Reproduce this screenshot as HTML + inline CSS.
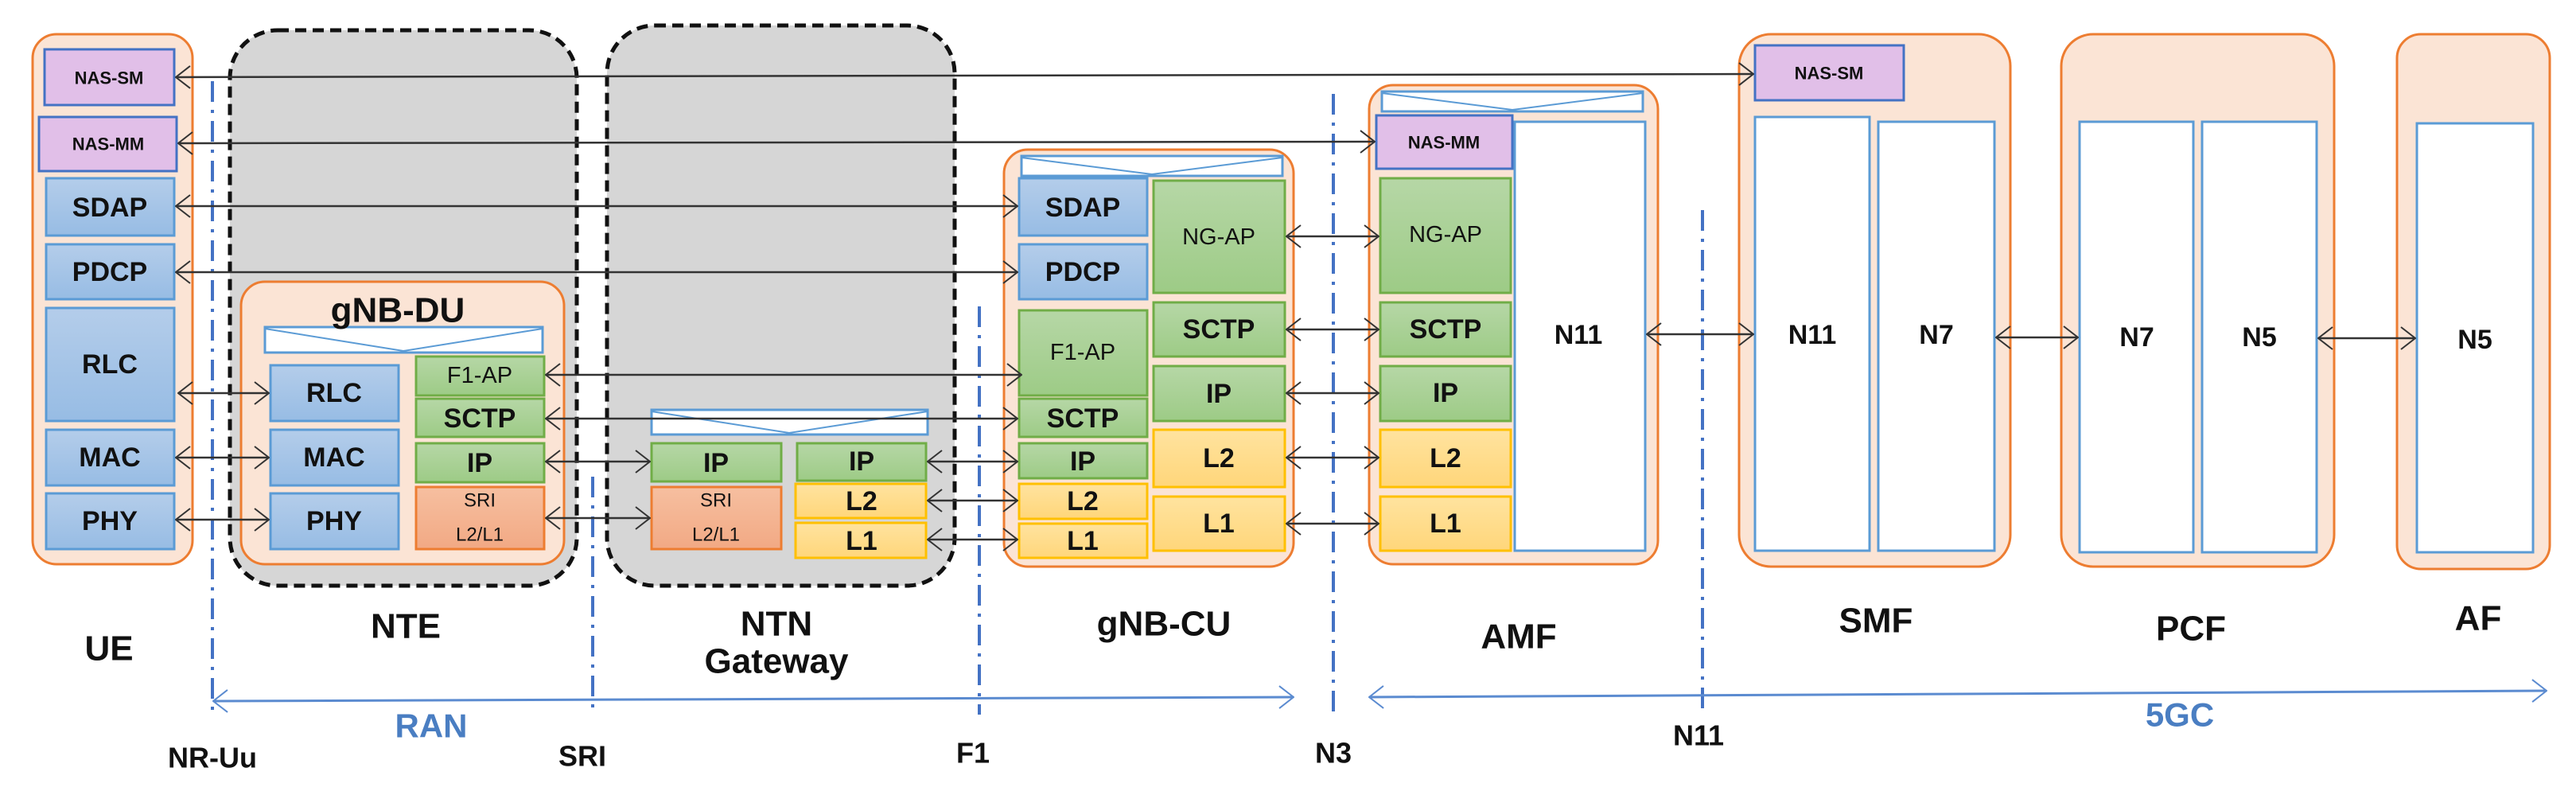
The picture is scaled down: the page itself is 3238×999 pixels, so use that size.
<!DOCTYPE html>
<html><head><meta charset="utf-8"><style>
html,body{margin:0;padding:0;background:#fff}
svg{display:block}
text{font-family:"Liberation Sans",sans-serif;text-anchor:middle;dominant-baseline:central;fill:#111}
.b{font-weight:bold}
</style></head><body>
<svg width="3238" height="999" viewBox="0 0 3238 999" xmlns="http://www.w3.org/2000/svg">
<defs>
<linearGradient id="gb" x1="0" y1="0" x2="0" y2="1"><stop offset="0" stop-color="#B4CDEA"/><stop offset="1" stop-color="#97BCE4"/></linearGradient>
<linearGradient id="gg" x1="0" y1="0" x2="0" y2="1"><stop offset="0" stop-color="#B6D7A6"/><stop offset="1" stop-color="#9DCB86"/></linearGradient>
<linearGradient id="gy" x1="0" y1="0" x2="0" y2="1"><stop offset="0" stop-color="#FFE39F"/><stop offset="1" stop-color="#FFD67A"/></linearGradient>
<linearGradient id="gs" x1="0" y1="0" x2="0" y2="1"><stop offset="0" stop-color="#F6BFA0"/><stop offset="1" stop-color="#F2A984"/></linearGradient>
<marker id="ah" viewBox="0 0 20 30" refX="19" refY="15" markerWidth="20" markerHeight="30" markerUnits="userSpaceOnUse" orient="auto-start-reverse"><path d="M1 1 L19 15 L1 29" fill="none" stroke="#333" stroke-width="2"/></marker>
<marker id="bh" viewBox="0 0 20 30" refX="19" refY="15" markerWidth="20" markerHeight="30" markerUnits="userSpaceOnUse" orient="auto-start-reverse"><path d="M1 1 L19 15 L1 29" fill="none" stroke="#5B8BD0" stroke-width="2"/></marker>
</defs>

<rect x="289" y="38" width="436" height="698" rx="60" fill="#D6D6D6" stroke="#111" stroke-width="5" stroke-dasharray="14,8"/>
<rect x="763" y="32" width="437" height="704" rx="60" fill="#D6D6D6" stroke="#111" stroke-width="5" stroke-dasharray="14,8"/>

<g fill="#FBE4D5" stroke="#ED7D31" stroke-width="3">
<rect x="41" y="43" width="201" height="666" rx="30"/>
<rect x="303" y="354" width="406" height="355" rx="30"/>
<rect x="1262" y="188" width="364" height="524" rx="30"/>
<rect x="1721" y="107" width="363" height="602" rx="30"/>
<rect x="2186" y="43" width="341" height="669" rx="40"/>
<rect x="2591" y="43" width="343" height="669" rx="40"/>
<rect x="3013" y="43" width="192" height="672" rx="30"/>
</g>

<g fill="#fff" stroke="#5B9BD5" stroke-width="3">
<rect x="333" y="411" width="349" height="32"/><path d="M333 413 L507 441 L682 413" fill="none" stroke-width="2"/>
<rect x="819" y="515" width="347" height="31"/><path d="M819 517 L992 544 L1166 517" fill="none" stroke-width="2"/>
<rect x="1284" y="196" width="328" height="25"/><path d="M1284 198 L1448 219 L1612 198" fill="none" stroke-width="2"/>
<rect x="1737" y="115" width="328" height="25"/><path d="M1737 117 L1901 138 L2065 117" fill="none" stroke-width="2"/>
</g>

<g fill="#fff" stroke="#5B9BD5" stroke-width="3">
<rect x="1904" y="153" width="164" height="539"/>
<rect x="2206" y="147" width="144" height="545"/>
<rect x="2361" y="153" width="146" height="539"/>
<rect x="2614" y="153" width="143" height="541"/>
<rect x="2768" y="153" width="144" height="541"/>
<rect x="3038" y="155" width="146" height="539"/>
</g>

<g fill="#E1BFE8" stroke="#4472C4" stroke-width="3">
<rect x="56" y="62" width="163" height="70"/>
<rect x="49" y="147" width="173" height="68"/>
<rect x="1730" y="145" width="171" height="67"/>
<rect x="2206" y="57" width="187" height="69"/>
</g>

<g fill="url(#gb)" stroke="#5B9BD5" stroke-width="3">
<rect x="58" y="224" width="161" height="72"/>
<rect x="58" y="307" width="161" height="69"/>
<rect x="58" y="387" width="161" height="142"/>
<rect x="58" y="540" width="161" height="70"/>
<rect x="58" y="620" width="161" height="70"/>
<rect x="340" y="459" width="161" height="70"/>
<rect x="340" y="540" width="161" height="70"/>
<rect x="340" y="620" width="161" height="70"/>
<rect x="1281" y="224" width="161" height="72"/>
<rect x="1281" y="307" width="161" height="69"/>
</g>

<g fill="url(#gg)" stroke="#70AD47" stroke-width="3">
<rect x="523" y="448" width="161" height="49"/>
<rect x="523" y="501" width="161" height="48"/>
<rect x="523" y="557" width="161" height="49"/>
<rect x="819" y="557" width="163" height="48"/>
<rect x="1002" y="557" width="162" height="47"/>
<rect x="1281" y="390" width="161" height="107"/>
<rect x="1281" y="501" width="161" height="48"/>
<rect x="1281" y="557" width="161" height="44"/>
<rect x="1450" y="227" width="165" height="141"/>
<rect x="1450" y="380" width="165" height="68"/>
<rect x="1450" y="460" width="165" height="69"/>
<rect x="1735" y="224" width="164" height="144"/>
<rect x="1735" y="380" width="164" height="68"/>
<rect x="1735" y="460" width="164" height="69"/>
</g>

<g fill="url(#gs)" stroke="#ED7D31" stroke-width="3">
<rect x="523" y="612" width="161" height="78"/>
<rect x="819" y="612" width="163" height="78"/>
</g>

<g fill="url(#gy)" stroke="#FFC000" stroke-width="3">
<rect x="1000" y="608" width="164" height="43"/>
<rect x="1000" y="657" width="164" height="44"/>
<rect x="1281" y="608" width="161" height="44"/>
<rect x="1281" y="658" width="161" height="43"/>
<rect x="1450" y="540" width="165" height="72"/>
<rect x="1450" y="624" width="165" height="68"/>
<rect x="1735" y="540" width="164" height="72"/>
<rect x="1735" y="624" width="164" height="68"/>
</g>

<g stroke="#4472C4" stroke-width="4" stroke-dasharray="26,10,4,10">
<line x1="267" y1="102" x2="267" y2="898"/>
<line x1="745" y1="599" x2="745" y2="895"/>
<line x1="1231" y1="385" x2="1231" y2="898"/>
<line x1="1676" y1="118" x2="1676" y2="898"/>
<line x1="2140" y1="264" x2="2140" y2="898"/>
</g>

<g stroke="#5B8BD0" stroke-width="3" fill="none">
<line x1="268" y1="881" x2="1626" y2="876" marker-start="url(#bh)" marker-end="url(#bh)"/>
<line x1="1721" y1="876" x2="3201" y2="868" marker-start="url(#bh)" marker-end="url(#bh)"/>
</g>

<g stroke="#333" stroke-width="2.5" fill="none" marker-start="url(#ah)" marker-end="url(#ah)">
<line x1="221" y1="97" x2="2204" y2="93"/>
<line x1="224" y1="180" x2="1728" y2="178"/>
<line x1="221" y1="259" x2="1279" y2="259"/>
<line x1="221" y1="342" x2="1279" y2="342"/>
<line x1="686" y1="471" x2="1284" y2="471"/>
<line x1="686" y1="526" x2="1279" y2="526"/>
<line x1="224" y1="494" x2="338" y2="494"/>
<line x1="221" y1="575" x2="338" y2="575"/>
<line x1="221" y1="653" x2="338" y2="653"/>
<line x1="686" y1="580" x2="817" y2="580"/>
<line x1="686" y1="651" x2="817" y2="651"/>
<line x1="1166" y1="580" x2="1279" y2="580"/>
<line x1="1166" y1="629" x2="1279" y2="629"/>
<line x1="1166" y1="678" x2="1279" y2="678"/>
<line x1="1617" y1="297" x2="1733" y2="297"/>
<line x1="1617" y1="414" x2="1733" y2="414"/>
<line x1="1617" y1="494" x2="1733" y2="494"/>
<line x1="1617" y1="575" x2="1733" y2="575"/>
<line x1="1617" y1="658" x2="1733" y2="658"/>
<line x1="2070" y1="420" x2="2204" y2="420"/>
<line x1="2509" y1="424" x2="2612" y2="424"/>
<line x1="2914" y1="425" x2="3036" y2="425"/>
</g>

<g font-size="22" font-weight="bold">
<text x="137" y="98" class="b">NAS-SM</text><text x="136" y="181" class="b">NAS-MM</text>
<text x="1815" y="179" class="b">NAS-MM</text><text x="2299" y="92" class="b">NAS-SM</text>
</g>
<g class="b" font-size="34">
<text x="138" y="261" class="b">SDAP</text><text x="138" y="342" class="b">PDCP</text>
<text x="138" y="458" class="b">RLC</text><text x="138" y="575" class="b">MAC</text><text x="138" y="655" class="b">PHY</text>
<text x="420" y="494" class="b">RLC</text><text x="420" y="575" class="b">MAC</text><text x="420" y="655" class="b">PHY</text>
<text x="603" y="526" class="b">SCTP</text><text x="603" y="582" class="b">IP</text>
<text x="900" y="582" class="b">IP</text><text x="1083" y="580" class="b">IP</text>
<text x="1083" y="630" class="b">L2</text><text x="1083" y="680" class="b">L1</text>
<text x="1361" y="261" class="b">SDAP</text><text x="1361" y="342" class="b">PDCP</text>
<text x="1361" y="526" class="b">SCTP</text><text x="1361" y="580" class="b">IP</text>
<text x="1361" y="630" class="b">L2</text><text x="1361" y="680" class="b">L1</text>
<text x="1532" y="414" class="b">SCTP</text><text x="1532" y="495" class="b">IP</text>
<text x="1532" y="576" class="b">L2</text><text x="1532" y="658" class="b">L1</text>
<text x="1817" y="414" class="b">SCTP</text><text x="1817" y="494" class="b">IP</text>
<text x="1817" y="576" class="b">L2</text><text x="1817" y="658" class="b">L1</text>
<text x="1984" y="421" class="b">N11</text>
<text x="2278" y="421" class="b">N11</text><text x="2434" y="421" class="b">N7</text>
<text x="2686" y="424" class="b">N7</text><text x="2840" y="424" class="b">N5</text>
<text x="3111" y="427" class="b">N5</text>
</g>
<g font-size="29">
<text x="603" y="472">F1-AP</text>
<text x="1361" y="443">F1-AP</text>
<text x="1532" y="298">NG-AP</text><text x="1817" y="295">NG-AP</text>
</g>
<g font-size="24">
<text x="603" y="629">SRI</text><text x="603" y="672">L2/L1</text>
<text x="900" y="629">SRI</text><text x="900" y="672">L2/L1</text>
</g>

<g class="b" font-size="44">
<text x="500" y="390" class="b">gNB-DU</text>
<text x="137" y="815" class="b">UE</text>
<text x="510" y="787" class="b">NTE</text>
<text x="976" y="784" class="b">NTN</text><text x="976" y="831" class="b">Gateway</text>
<text x="1463" y="784" class="b">gNB-CU</text>
<text x="1909" y="800" class="b">AMF</text>
<text x="2358" y="780" class="b">SMF</text>
<text x="2754" y="790" class="b">PCF</text>
<text x="3115" y="777" class="b">AF</text>
</g>
<g class="b" font-size="42">
<text x="542" y="912" class="b" style="fill:#4A7EC2">RAN</text>
<text x="2740" y="898" class="b" style="fill:#4A7EC2">5GC</text>
</g>
<g class="b" font-size="36">
<text x="267" y="952" class="b">NR-Uu</text>
<text x="732" y="950" class="b">SRI</text>
<text x="1223" y="946" class="b">F1</text>
<text x="1676" y="946" class="b">N3</text>
<text x="2135" y="924" class="b">N11</text>
</g>
</svg>
</body></html>
